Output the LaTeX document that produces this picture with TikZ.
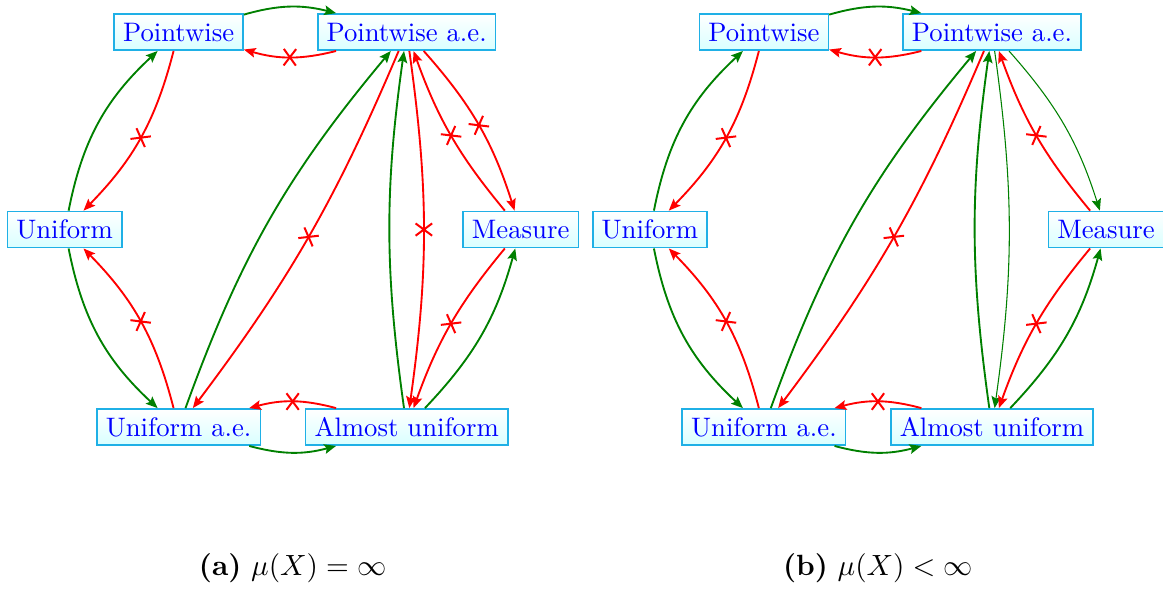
\documentclass[tikz,border=0pt]{standalone}
\usetikzlibrary{arrows.meta, decorations.markings}
\definecolor{cgreen}{HTML}{008000}
\definecolor{cborder}{HTML}{1FB0E6}
\tikzset{
  mode/.style={draw=cborder, top color=white, bottom color=cyan!15, text=blue, line width=0.6pt, text height=6.9pt, text depth=0pt},
  imp/.style={draw=cgreen, line width=0.7pt, -{Stealth[length=4.4pt, width=3.6pt, inset=0.8pt]}},
  nimp/.style={draw=red, line width=0.7pt, -{Stealth[length=4.4pt, width=3.6pt, inset=0.8pt]},
    postaction={decorate}, decoration={markings, mark=at position 0.5 with
    {\draw[-, red, line width=0.75pt] (-2.3pt,-3.1pt) -- (2.3pt,3.1pt) (2.3pt,-3.1pt) -- (-2.3pt,3.1pt);}}},
  subcap/.style={font=\fontsize{10.95}{13.6}\selectfont},
}

\begin{document}
\begin{tikzpicture}
  \useasboundingbox (-3.85,-4.72) rectangle (11.45,3.02);
  % (a) infinite measure
  \node[mode] (pw1) at (-1.5, 2.598) {Pointwise};
  \node[mode] (pwae1) at (1.5, 2.598) {Pointwise a.e.};
  \node[mode] (un1) at (-3, 0) {Uniform};
  \node[mode] (ms1) at (3, 0) {Measure};
  \node[mode] (unae1) at (-1.5, -2.598) {Uniform a.e.};
  \node[mode] (au1) at (1.5, -2.598) {Almost uniform};
  \draw[imp] (pw1) to[bend left=15] (pwae1);
  \draw[nimp] (pwae1) to[bend left=15] (pw1);
  \draw[imp] (un1) to[bend left=18] (pw1);
  \draw[nimp] (pw1) to[bend left=15] (un1);
  \draw[imp] (un1) to[bend right=18] (unae1);
  \draw[nimp] (unae1) to[bend right=15] (un1);
  \draw[imp] (unae1) to[bend left=10] (pwae1);
  \draw[nimp] (pwae1) to[bend left=7] (unae1);
  \draw[imp] (au1) to[bend left=8] (pwae1);
  \draw[nimp] (pwae1) to[bend left=8] (au1);
  \draw[nimp] (ms1) to[bend left=10] (pwae1);
  \draw[nimp] (pwae1) to[bend left=12] (ms1);
  \draw[nimp] (ms1) to[bend right=10] (au1);
  \draw[imp] (au1) to[bend right=14] (ms1);
  \draw[nimp] (au1) to[bend right=15] (unae1);
  \draw[imp] (unae1) to[bend right=15] (au1);
  \node[subcap] (cap1) at (0, -4.45) {\textbf{(a)} $\mu(X)=\infty$};
  % (b) finite measure
  \node[mode] (pw2) at (6.2, 2.598) {Pointwise};
  \node[mode] (pwae2) at (9.2, 2.598) {Pointwise a.e.};
  \node[mode] (un2) at (4.7, 0) {Uniform};
  \node[mode] (ms2) at (10.7, 0) {Measure};
  \node[mode] (unae2) at (6.2, -2.598) {Uniform a.e.};
  \node[mode] (au2) at (9.2, -2.598) {Almost uniform};
  \draw[imp] (pw2) to[bend left=15] (pwae2);
  \draw[nimp] (pwae2) to[bend left=15] (pw2);
  \draw[imp] (un2) to[bend left=18] (pw2);
  \draw[nimp] (pw2) to[bend left=15] (un2);
  \draw[imp] (un2) to[bend right=18] (unae2);
  \draw[nimp] (unae2) to[bend right=15] (un2);
  \draw[imp] (unae2) to[bend left=10] (pwae2);
  \draw[nimp] (pwae2) to[bend left=7] (unae2);
  \draw[imp] (au2) to[bend left=8] (pwae2);
  \draw[imp, line width=0.4pt] (pwae2) to[bend left=8] (au2);
  \draw[nimp] (ms2) to[bend left=10] (pwae2);
  \draw[imp, line width=0.4pt] (pwae2) to[bend left=12] (ms2);
  \draw[nimp] (ms2) to[bend right=10] (au2);
  \draw[imp] (au2) to[bend right=14] (ms2);
  \draw[nimp] (au2) to[bend right=15] (unae2);
  \draw[imp] (unae2) to[bend right=15] (au2);
  \node[subcap] (cap2) at (7.7, -4.45) {\textbf{(b)} $\mu(X)<\infty$};
\end{tikzpicture}
\end{document}
